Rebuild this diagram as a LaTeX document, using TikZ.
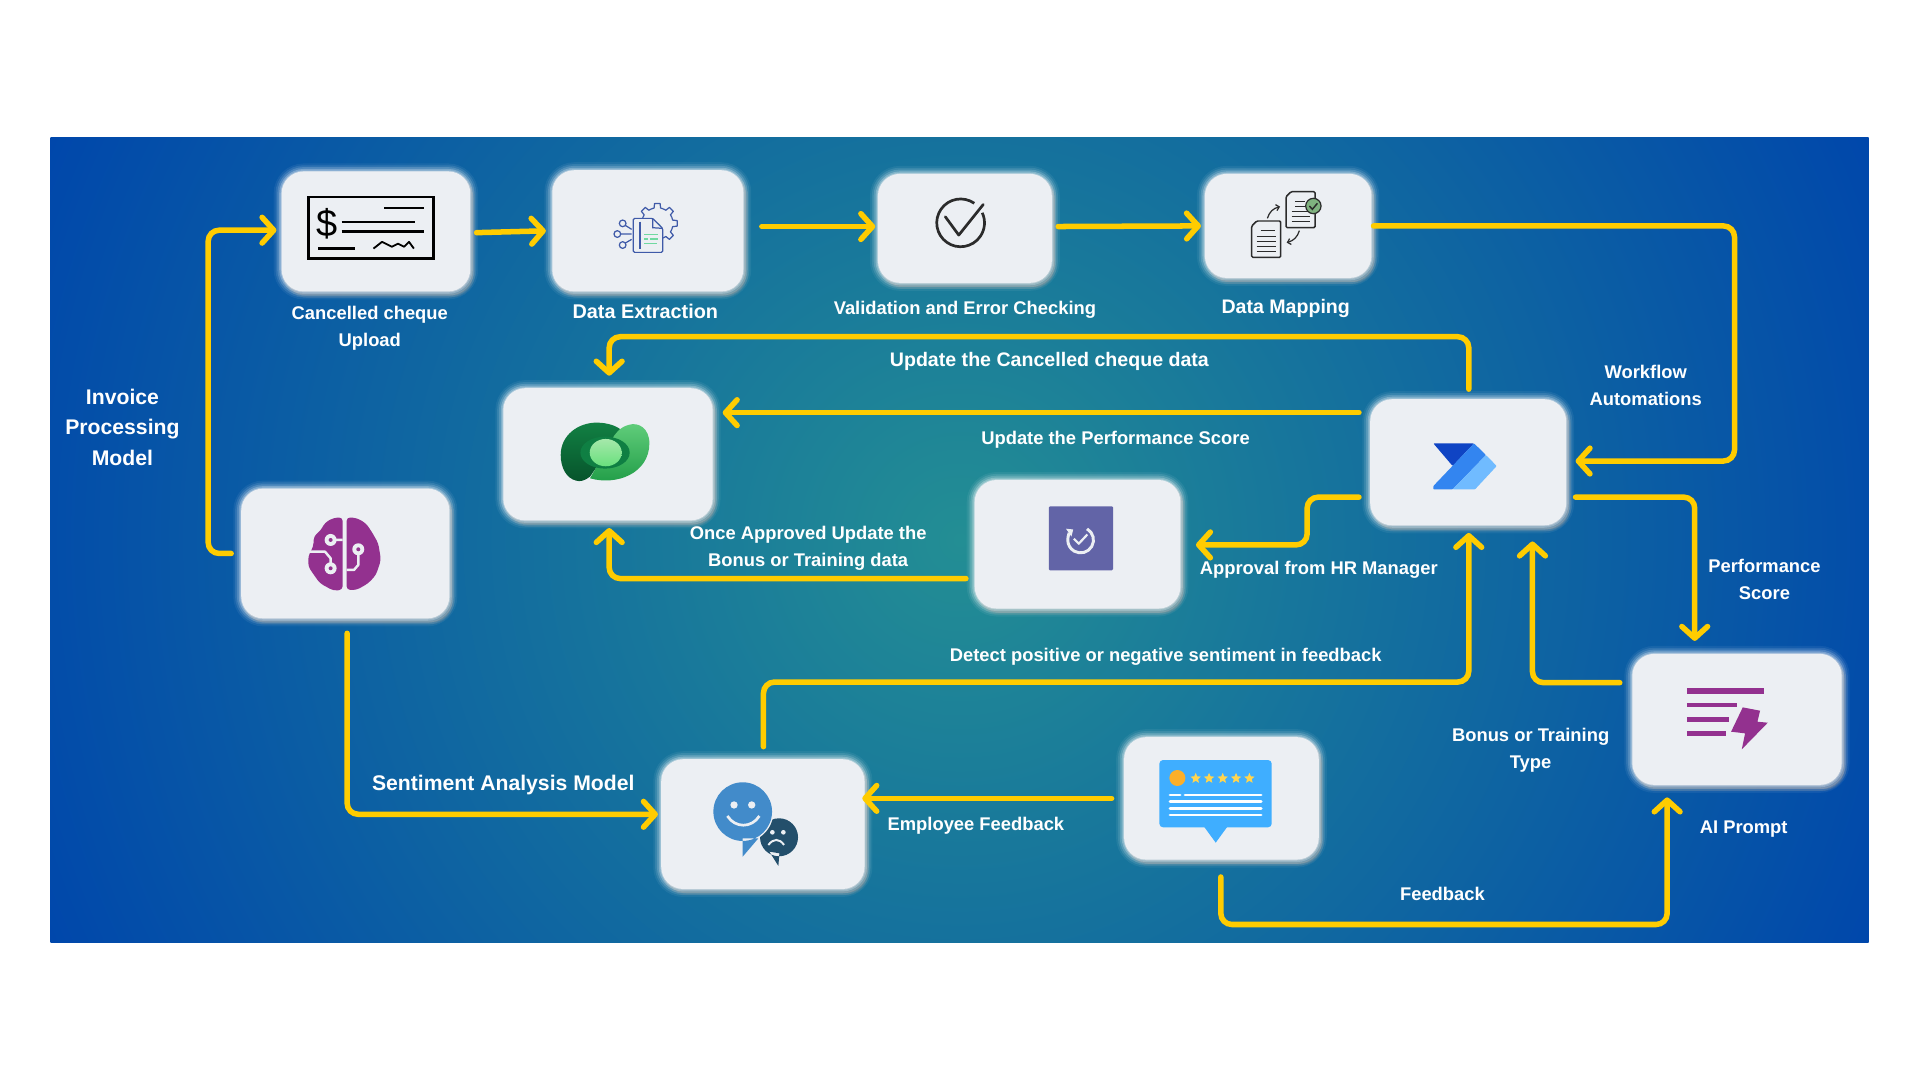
\documentclass[tikz,border=0pt]{standalone}
\usepackage{fontspec}
\setmainfont{Liberation Sans}
\usetikzlibrary{arrows.meta,shapes.geometric}
\definecolor{bgmid}{HTML}{238E94}
\definecolor{bgedge}{HTML}{0047AB}
\definecolor{cardfill}{HTML}{ECEFF3}
\definecolor{flowgold}{HTML}{FFCC00}
\definecolor{brainpurple}{HTML}{93318F}
\definecolor{iconblue}{HTML}{3F5AA8}
\definecolor{icongreen}{HTML}{6FD9A0}
\definecolor{inkdark}{HTML}{2B2B2B}
\definecolor{badgegreen}{HTML}{7FB27F}
\definecolor{smileblue}{HTML}{428BCA}
\definecolor{frownblue}{HTML}{234F6B}
\definecolor{bubbleblue}{HTML}{3FAEFF}
\definecolor{starorange}{HTML}{FBAF2A}
\definecolor{staryellow}{HTML}{FFD54F}
\definecolor{teamsviolet}{HTML}{6264A7}
\definecolor{flownavy}{HTML}{0F44C4}
\definecolor{flowmid}{HTML}{3385F0}
\definecolor{flowlight}{HTML}{70BBFF}
\definecolor{dvdarktop}{HTML}{128043}
\definecolor{dvdarkbot}{HTML}{06532B}
\definecolor{dvbrighttop}{HTML}{62CE7C}
\definecolor{dvbrightbot}{HTML}{1E9B45}
\definecolor{dvring}{HTML}{0F7F43}
\definecolor{dvcoretop}{HTML}{A5E8AA}
\definecolor{dvcorebot}{HTML}{69E07D}
\pgfdeclareradialshading{bgglow}{\pgfpoint{0bp}{0bp}}{color(0bp)=(bgmid); color(25bp)=(bgedge); color(50bp)=(bgedge)}
\tikzset{
  card/.style={rounded corners=18pt,fill=cardfill,inner sep=0pt,
    preaction={fill=gray,fill opacity=.4,draw=gray,draw opacity=.2,line width=3pt,transform canvas={shift={(2.5pt,-3.5pt)}}},
    preaction={draw=white,draw opacity=.06,line width=13pt},
    preaction={draw=white,draw opacity=.1,line width=10pt},
    preaction={draw=white,draw opacity=.16,line width=7pt},
    preaction={draw=white,draw opacity=.25,line width=4pt},
    preaction={draw=cardfill,draw opacity=.4,line width=1.5pt}},
  flowline/.style={draw=flowgold,line width=4.5pt,line cap=round,rounded corners=9pt,
    -{Straight Barb[length=9.5pt,width=21pt,round]}},
  lbl/.style={text=white,align=center,inner sep=0pt,font=\bfseries\fontsize{15}{22}\selectfont},
  widelbl/.style={lbl,font=\bfseries\fontsize{16}{22}\selectfont},
  biglbl/.style={lbl,font=\bfseries\fontsize{17.3}{25}\selectfont},
  ministar/.style={star,star points=5,star point ratio=2.2,fill=#1,inner sep=0pt,minimum size=9pt}
}
\begin{document}
\begin{tikzpicture}[x=1pt,y=-1pt]
\useasboundingbox (0,0) rectangle (1568,882);
\begin{scope}
\clip (41,112) rectangle (1526,770);
\shade[shading=bgglow] (784,441) circle (812pt);
\end{scope}

\node[card,minimum width=154pt,minimum height=98pt] (cheque) at (307,189) {};
\node[card,minimum width=156pt,minimum height=99pt] (extract) at (529,188.5) {};
\node[card,minimum width=142pt,minimum height=89pt] (valid) at (788,186.5) {};
\node[card,minimum width=136pt,minimum height=85pt] (mapping) at (1052,184.5) {};
\node[card,minimum width=171pt,minimum height=108pt] (dverse) at (496.5,371) {};
\node[card,minimum width=170pt,minimum height=106pt] (brain) at (282,452) {};
\node[card,minimum width=160pt,minimum height=103pt] (flow) at (1199,377.5) {};
\node[card,minimum width=168pt,minimum height=105pt] (approve) at (880,444.5) {};
\node[card,minimum width=166pt,minimum height=106pt] (sentiment) at (623,673) {};
\node[card,minimum width=159pt,minimum height=100pt] (fback) at (997.5,652) {};
\node[card,minimum width=171pt,minimum height=107pt] (prompt) at (1418.5,587.5) {};

\draw[black,line width=2pt] (252,161) rectangle (354,211);
\draw[black,line width=1.8pt] (314,170) -- (346,170) (279,181) -- (339,181) (279,189) -- (346,189) (260,203) -- (290,203);
\draw[black,line width=1.5pt,line join=round] (305,203) -- (312,197.5) -- (320,201.5) -- (325,199) -- (330,201.5) -- (334,197.5) -- (338,203);
\node[inner sep=0pt,font=\fontsize{31}{31}\selectfont] (dollar) at (267,183) {\$};

\begin{scope}[shift={(490,155.2)},scale=.2722]
\foreach \a in {0,45,...,315}
  \draw[iconblue,line width=1pt,line join=round] ({172+47*cos(\a-22.5)},{100+47*sin(\a-22.5)}) -- ({172+47*cos(\a-12)},{100+47*sin(\a-12)}) -- ({172+60*cos(\a-8)},{100+60*sin(\a-8)}) -- ({172+60*cos(\a+8)},{100+60*sin(\a+8)}) -- ({172+47*cos(\a+12)},{100+47*sin(\a+12)}) -- ({172+47*cos(\a+22.5)},{100+47*sin(\a+22.5)});
\draw[icongreen,line width=1pt] ([shift={(120:10.3pt)}]170,110) arc[start angle=120,end angle=-10,radius=10.3pt];
\draw[iconblue,line width=1pt,fill=cardfill,rounded corners=1pt] (100,85) -- (158,85) -- (188,115) -- (188,187) -- (100,187) -- cycle;
\draw[iconblue,line width=1pt] (158,85) -- (158,113) -- (188,115);
\draw[iconblue,line width=1.2pt] (120,95) -- (120,178);
\draw[icongreen,line width=1pt] (133,133) -- (175,133) (133,147) -- (143,147) (150,147) -- (175,147) (133,160) -- (170,160);
\draw[iconblue,line width=1pt] (68,100) circle (10) (52,132) circle (10) (68,165) circle (10);
\draw[iconblue,line width=1pt] (76,106) -- (95,118) (62,132) -- (95,132) (76,159) -- (95,148);
\end{scope}

\draw[inkdark,line width=2.2pt] ([shift={(55:19.5pt)}]784.5,182) arc[start angle=55,end angle=385,radius=19.5pt];
\draw[inkdark,line width=2.2pt,line join=round,line cap=round] (772,177) -- (783,192) -- (803,167);

\begin{scope}[shift={(1012.7,147)},scale=.2722]
\draw[inkdark,line width=1.2pt,rounded corners=1pt] (138,50) -- (153,35) -- (225,35) -- (225,143) -- (138,143) -- cycle;
\draw[inkdark,line width=1.2pt,rounded corners=1pt] (35,138) -- (50,123) -- (122,123) -- (122,232) -- (35,232) -- cycle;
\draw[inkdark,line width=1.1pt] (165,65) -- (195,65) (165,80) -- (195,80) (155,95) -- (210,95) (155,110) -- (210,110) (155,125) -- (210,125);
\draw[inkdark,line width=1.1pt] (62,152) -- (105,152) (50,170) -- (107,170) (50,185) -- (107,185) (50,200) -- (107,200) (50,215) -- (107,215);
\draw[inkdark,line width=1pt,fill=badgegreen] (220,78) circle (23);
\draw[inkdark,line width=1.2pt] (208,78) -- (217,88) -- (232,70);
\draw[inkdark,line width=1pt,-{Straight Barb[length=2.5pt,width=5pt]}] (82,115) .. controls (88,95) and (100,85) .. (120,80);
\draw[inkdark,line width=1pt,-{Straight Barb[length=2.5pt,width=5pt]}] (178,152) .. controls (172,172) and (160,182) .. (140,188);
\end{scope}

\begin{scope}[shift={(449.2,334.8)},scale=.2722]
\shade[top color=dvdarktop,bottom color=dvdarkbot] (32,135) .. controls (32,75) and (85,38) .. (140,38) .. controls (175,38) and (205,50) .. (215,62) -- (120,200) .. controls (105,212) and (90,216) .. (78,212) .. controls (50,205) and (32,175) .. (32,135) -- cycle;
\shade[top color=dvbrighttop,bottom color=dvbrightbot] (120,205) .. controls (200,228) and (298,190) .. (298,100) .. controls (298,55) and (265,35) .. (235,45) .. controls (210,52) and (195,70) .. (185,90) -- cycle;
\fill[dvring] (165,128) ellipse (74 and 48);
\shade[top color=dvcoretop,bottom color=dvcorebot] (167,128) ellipse (48 and 41);
\end{scope}

\begin{scope}[shift={(236.8,408.3)},scale=.2722]
\fill[brainpurple,rounded corners=3pt] (158,52) -- (130,54) -- (105,68) -- (92,92) -- (72,108) -- (70,140) -- (55,168) -- (55,200) -- (72,225) -- (90,250) -- (130,272) -- (158,270) -- cycle;
\fill[brainpurple,rounded corners=3pt] (170,52) -- (200,54) -- (228,70) -- (245,95) -- (265,130) -- (273,180) -- (258,225) -- (235,250) -- (200,270) -- (170,270) -- cycle;
\draw[cardfill,line width=2pt,line join=round] (136,120) -- (158,120) (55,155) -- (105,155) -- (122,175) -- (122,195) (205,162) -- (205,195) -- (192,210) -- (170,210);
\fill[cardfill] (122,120) circle (18) (122,205) circle (18) (205,148) circle (18);
\fill[brainpurple] (122,120) circle (6) (122,205) circle (6) (205,148) circle (6);
\end{scope}

\begin{scope}[shift={(1151.5,351.2)},scale=.2722]
\fill[flownavy,rounded corners=.6pt] (70,40) -- (192,40) -- (128,108) -- cycle;
\fill[flowmid,rounded corners=.6pt] (70,178) -- (70,168) -- (192,40) -- (228,75) -- (128,178) -- cycle;
\fill[flowlight,rounded corners=.6pt] (228,75) -- (260,108) -- (195,178) -- (128,178) -- cycle;
\end{scope}

\fill[teamsviolet,rounded corners=1pt] (856.5,413.5) rectangle (909,465.8);
\draw[cardfill,line width=2.4pt,-{Triangle[length=4.5pt,width=7.5pt]}] ([shift={(60:10.5pt)}]882.5,441) arc[start angle=60,end angle=-235,radius=10.5pt];
\draw[cardfill,line width=1.8pt,line join=round] (877,440) -- (881,444) -- (888,436.5);

\begin{scope}[shift={(571.7,628.8)},scale=.2722]
\fill[frownblue] (237,202) circle (57) (208,245) -- (235,288) -- (238,250) -- cycle;
\fill[cardfill] (128,125) circle (92);
\fill[smileblue] (128,125) circle (88) (128,205) -- (128,260) -- (175,205) -- cycle;
\fill[cardfill] (102,105) circle (11) (155,105) circle (11) (217,187) circle (7) (250,187) circle (7);
\draw[cardfill,line width=2.2pt] (82,138) .. controls (105,175) and (155,175) .. (178,138);
\draw[cardfill,line width=1.6pt] (205,225) .. controls (220,205) and (238,205) .. (252,225);
\end{scope}

\begin{scope}[shift={(939.2,612.5)},scale=.2722]
\fill[bubbleblue,rounded corners=3pt] (28,30) rectangle (365,232);
\fill[bubbleblue] (162,230) -- (197,278) -- (232,230) -- cycle;
\fill[starorange] (82,84) circle (24);
\foreach \i/\sx in {1/137,2/177,3/218,4/258,5/298}
  \node[ministar=staryellow] (star\i) at (\sx,85) {};
\draw[white,line width=2.4pt,line cap=round] (60,135) -- (90,135) (105,135) -- (333,135) (60,155) -- (333,155) (60,175) -- (333,175) (60,195) -- (333,195);
\end{scope}

\begin{scope}[shift={(1363.9,547.2)},scale=.2722]
\draw[brainpurple,line width=4.6pt] (50,62) -- (282,62);
\draw[brainpurple,line width=3.5pt] (50,105) -- (200,105) (50,148) -- (178,148);
\draw[brainpurple,line width=4pt] (50,190) -- (168,190);
\fill[brainpurple] (218,112) -- (270,122) -- (262,155) -- (293,158) -- (215,238) -- (225,190) -- (183,185) -- cycle;
\end{scope}

\coordinate (railw) at (170,320);
\coordinate (raile) at (1416.5,280);
\coordinate (railtop) at (850,275);
\coordinate (railappr) at (1067.5,425);
\coordinate (railmid) at (900,557);
\coordinate (railbot) at (1180,755);

\draw[flowline] ([xshift=-8pt]brain.west) -| (railw) |- ([xshift=-4pt,yshift=1pt]cheque.west);
\draw[flowline] ([xshift=5pt,yshift=-1pt]cheque.east) -- ([xshift=-5pt]extract.west);
\draw[flowline] ([xshift=15pt,yshift=3.5pt]extract.east) -- ([xshift=-2pt,yshift=1.5pt]valid.west);
\draw[flowline] ([xshift=5pt,yshift=1.5pt]valid.east) -- ([xshift=-3pt]mapping.west);
\draw[flowline] ([xshift=1.5pt]mapping.east) -| (raile) |- ([xshift=7.5pt,yshift=1pt]flow.east);
\draw[flowline] ([xshift=.5pt,yshift=8pt]flow.north) |- (railtop) -| ([xshift=1pt,yshift=10pt]dverse.north);
\draw[flowline] ([xshift=-9pt,yshift=40.5pt]flow.west) -- ([xshift=8pt,yshift=34pt]dverse.east);
\draw[flowline] ([xshift=-9pt,yshift=-28.5pt]flow.west) -| (railappr) |- ([xshift=12.5pt,yshift=-.5pt]approve.east);
\draw[flowline] ([xshift=-7pt,yshift=-28pt]approve.west) -| ([xshift=1pt,yshift=-6pt]dverse.south);
\draw[flowline] ([xshift=7.5pt,yshift=-28.5pt]flow.east) -| ([xshift=-34.5pt,yshift=10.4pt]prompt.north);
\draw[flowline] ([xshift=-10pt,yshift=30pt]prompt.west) -| ([xshift=52.5pt,yshift=-13pt]flow.south);
\draw[flowline] ([xshift=.5pt,yshift=10pt]sentiment.north) |- (railmid) -| ([xshift=.5pt,yshift=-6pt]flow.south);
\draw[flowline] ([xshift=1.5pt,yshift=-12pt]brain.south) |- ([xshift=-2.5pt,yshift=8pt]sentiment.west);
\draw[flowline] ([xshift=-10pt]fback.west) -- ([xshift=-2pt,yshift=21pt]sentiment.east);
\draw[flowline] ([yshift=-14pt,xshift=-.5pt]fback.south) |- (railbot) -| ([xshift=-57pt,yshift=-10pt]prompt.south);

\node[lbl] (lblcheque) at (302,268) {Cancelled cheque\\Upload};
\node[lbl,font=\bfseries\fontsize{16.2}{22}\selectfont] (lblextract) at (527,254) {Data Extraction};
\node[lbl] (lblvalid) at (788,253) {Validation and Error Checking};
\node[widelbl] (lblmapping) at (1050,252) {Data Mapping};
\node[widelbl] (lblupdcheque) at (857,295) {Update the Cancelled cheque data};
\node[lbl] (lblupdscore) at (911,359) {Update the Performance Score};
\node[lbl] (lblonce) at (660,448) {Once Approved Update the\\Bonus or Training data};
\node[lbl] (lblhr) at (1077,465) {Approval from HR Manager};
\node[lbl] (lblworkflow) at (1344,315) {Workflow\\Automations};
\node[lbl] (lblscore) at (1441,473) {Performance\\Score};
\node[lbl] (lbldetect) at (952,536) {Detect positive or negative sentiment in feedback};
\node[lbl] (lblbonus) at (1250,613) {Bonus or Training\\Type};
\node[lbl] (lblemployee) at (797,674) {Employee Feedback};
\node[lbl] (lblprompt) at (1424,677) {AI Prompt};
\node[lbl] (lblfeedback) at (1178,730) {Feedback};
\node[biglbl] (lblsentiment) at (411,641) {Sentiment Analysis Model};
\node[biglbl] (lblinvoice) at (100,349) {Invoice\\Processing\\Model};
\end{tikzpicture}
\end{document}
